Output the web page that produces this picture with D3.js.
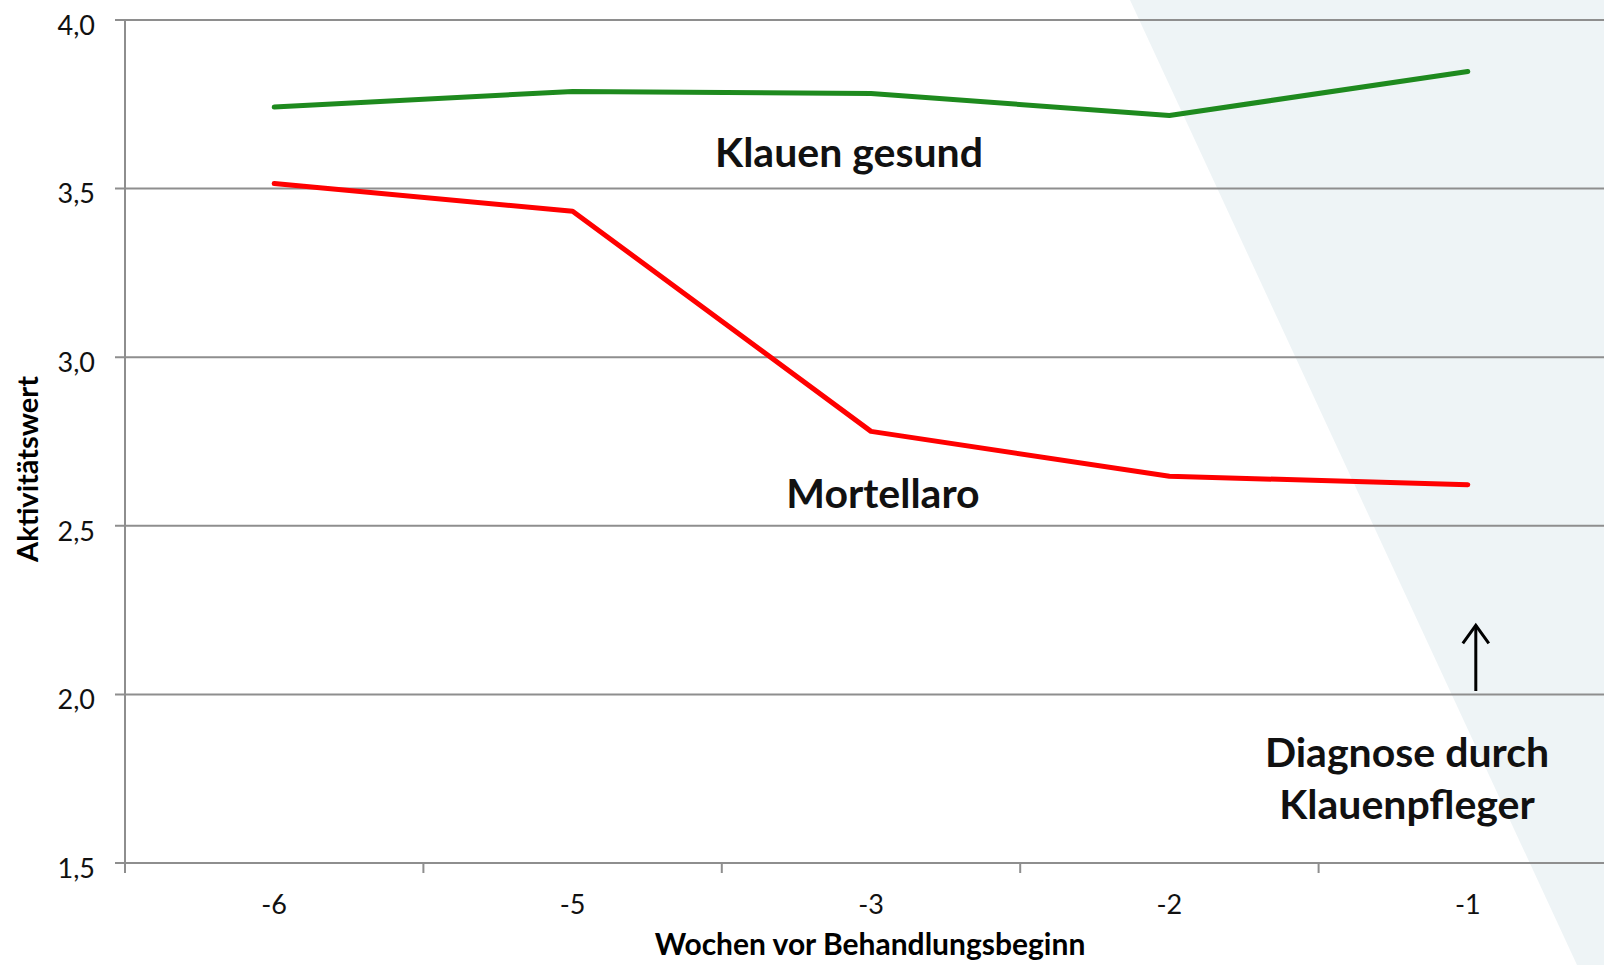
<!DOCTYPE html>
<html>
<head>
<meta charset="utf-8">
<script src="https://cdn.jsdelivr.net/npm/d3@7"></script>
<style>
  body { margin: 0; background: #fff; overflow: hidden; }
  svg { display: block; font-family: Lato, "Open Sans", sans-serif; }
</style>
</head>
<body>
<div id="chart"></div>
<script>
// data
var weeks = ['-6', '-5', '-3', '-2', '-1'];
var gesund = [3.742, 3.788, 3.782, 3.717, 3.847];
var mortellaro = [3.515, 3.433, 2.78, 2.647, 2.622];
var yTicks = [1.5, 2.0, 2.5, 3.0, 3.5, 4.0];

var W = 1604, H = 965;
var margin = {top: 20, left: 125},
    width = 1492,
    height = 843;

var x = d3.scaleBand().domain(weeks).range([0, width]).padding(0);
var y = d3.scaleLinear().domain([1.5, 4.0]).range([height, 0]);
var fmt = function(d){ return d3.format('.1f')(d).replace('.', ','); };

var svg = d3.select('#chart').append('svg')
    .attr('width', W).attr('height', H);

// shaded wedge on the right
svg.append('polygon')
    .attr('points', [[1130, 0], [W, 0], [W, H], [1577, H]].map(p => p.join(',')).join(' '))
    .style('fill', '#eef4f6');

var g = svg.append('g')
    .attr('transform', 'translate(' + margin.left + ',' + margin.top + ')');

// gridlines
g.selectAll('.grid')
    .data(yTicks)
    .enter().append('line')
    .attr('class', 'grid')
    .attr('x1', -10).attr('x2', width)
    .attr('y1', d => y(d)).attr('y2', d => y(d))
    .style('stroke', '#8e8e8e').style('stroke-width', 2);

// y axis line
g.append('line')
    .attr('x1', 0).attr('x2', 0).attr('y1', 0).attr('y2', height)
    .style('stroke', '#8e8e8e').style('stroke-width', 2);

// y tick labels
g.selectAll('.ylab')
    .data(yTicks)
    .enter().append('text')
    .attr('class', 'ylab')
    .attr('x', -30)
    .attr('y', d => y(d))
    .attr('dy', '0.55em')
    .style('text-anchor', 'end')
    .style('font-size', '27px')
    .style('fill', '#111')
    .text(fmt);

// x ticks at band boundaries
var bounds = weeks.map(d => x(d)).concat([x(weeks[weeks.length - 1]) + x.bandwidth()]);
g.selectAll('.xtick')
    .data(bounds)
    .enter().append('line')
    .attr('x1', d => d).attr('x2', d => d)
    .attr('y1', height).attr('y2', height + 10)
    .style('stroke', '#8e8e8e').style('stroke-width', 2);

g.selectAll('.xlab')
    .data(weeks)
    .enter().append('text')
    .attr('x', d => x(d) + x.bandwidth() / 2)
    .attr('y', height + 51)
    .style('text-anchor', 'middle')
    .style('font-size', '27px')
    .style('fill', '#111')
    .text(d => d);

// axis titles
svg.append('text')
    .attr('x', 870).attr('y', 955)
    .style('text-anchor', 'middle')
    .style('font-size', '30px').style('font-weight', 'bold')
    .text('Wochen vor Behandlungsbeginn');

svg.append('text')
    .attr('transform', 'translate(38,469) rotate(-90)')
    .style('text-anchor', 'middle')
    .style('font-size', '29px').style('font-weight', 'bold')
    .text('Aktivitätswert');

// lines
var line = d3.line()
    .x((d, i) => x(weeks[i]) + x.bandwidth() / 2)
    .y(d => y(d));

g.append('path').datum(gesund)
    .attr('d', line)
    .style('fill', 'none').style('stroke', '#1e8a1e')
    .style('stroke-width', 5).style('stroke-linecap', 'round').style('stroke-linejoin', 'round');

g.append('path').datum(mortellaro)
    .attr('d', line)
    .style('fill', 'none').style('stroke', '#ff0000')
    .style('stroke-width', 5).style('stroke-linecap', 'round').style('stroke-linejoin', 'round');

// annotations
var ann = svg.append('g')
    .style('font-size', '41px').style('font-weight', 'bold')
    .style('text-anchor', 'middle').style('fill', '#111');
ann.append('text').attr('x', 849).attr('y', 167).text('Klauen gesund');
ann.append('text').attr('x', 883).attr('y', 508).text('Mortellaro');
ann.append('text').attr('x', 1407).attr('y', 767).text('Diagnose durch');
ann.append('text').attr('x', 1407).attr('y', 819).text('Klauenpfleger');

// arrow
var ax = x('-1') + x.bandwidth() / 2 + 8;
g.append('line')
    .attr('x1', ax).attr('x2', ax)
    .attr('y1', y(2.01)).attr('y2', y(2.205))
    .style('stroke', '#000').style('stroke-width', 3);
g.append('path')
    .attr('d', 'M' + (ax - 13) + ',' + (y(2.205) + 18) + 'L' + ax + ',' + y(2.205) + 'L' + (ax + 13) + ',' + (y(2.205) + 18))
    .style('fill', 'none').style('stroke', '#000').style('stroke-width', 3);
</script>
</body>
</html>
